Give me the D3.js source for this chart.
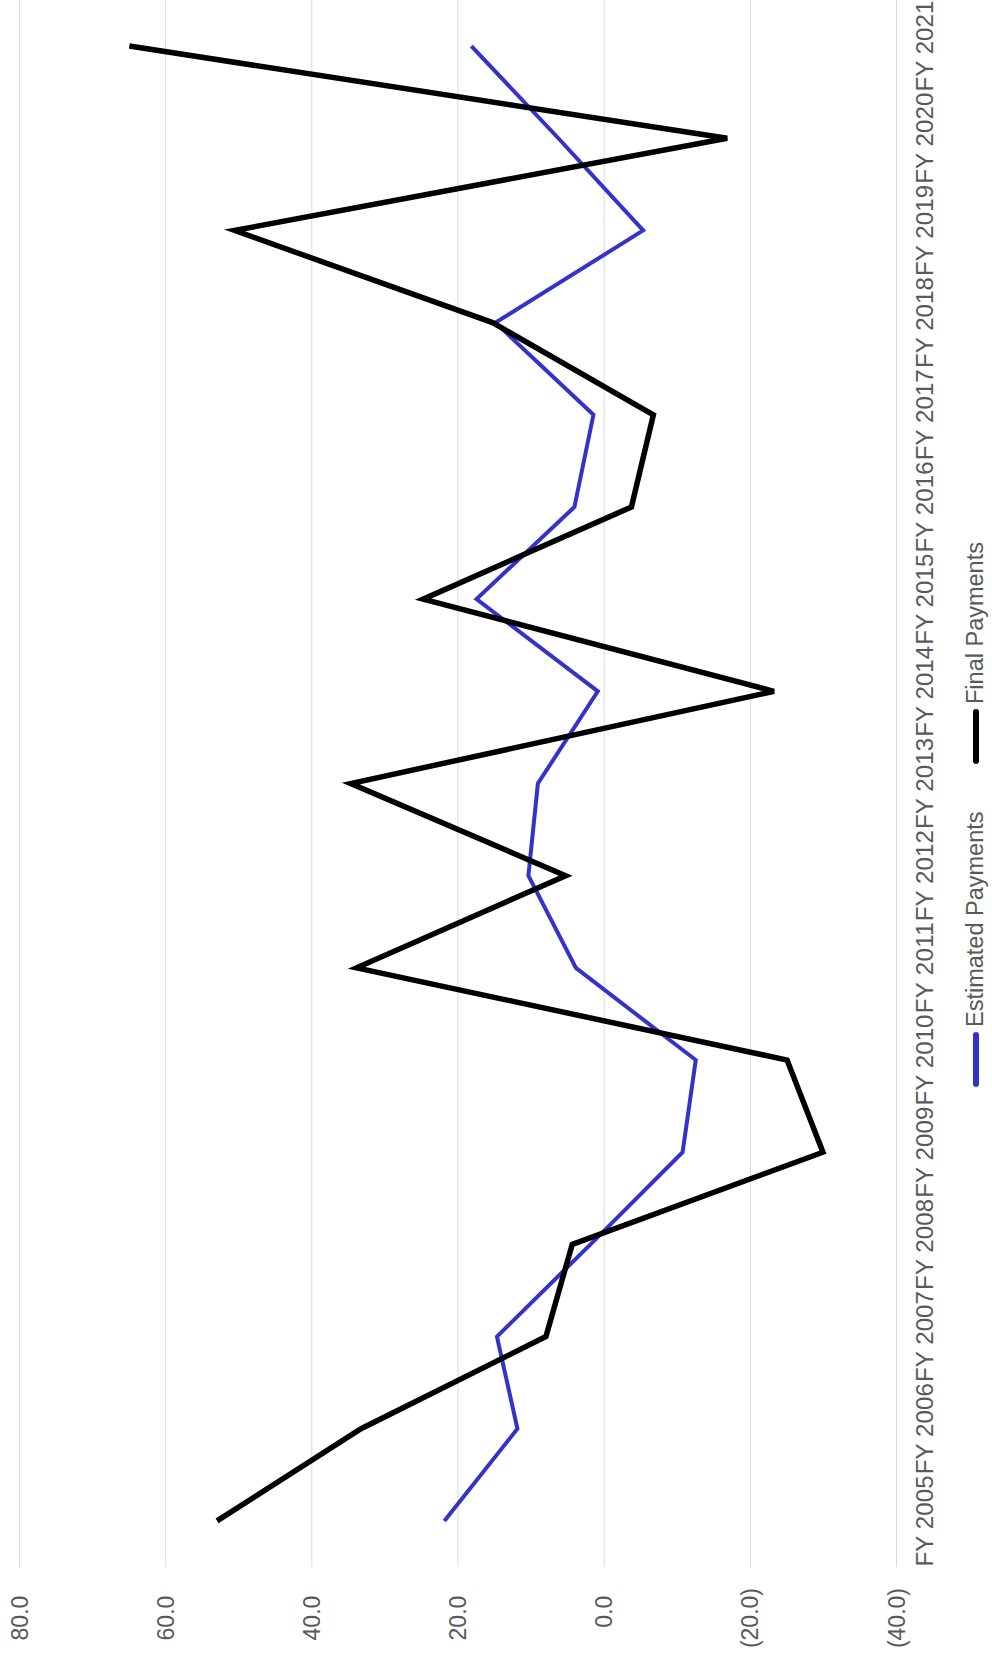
<!DOCTYPE html>
<html>
<head>
<meta charset="utf-8">
<script src="https://cdn.jsdelivr.net/npm/d3@7"></script>
<style>
  body { margin: 0; background: #fff; }
  svg { display: block; font-family: "Liberation Sans", Arial, sans-serif; }
</style>
</head>
<body>
<svg id="chart"></svg>
<script>
// ---- data ----
const categories = ['FY 2005', 'FY 2006', 'FY 2007', 'FY 2008', 'FY 2009', 'FY 2010', 'FY 2011', 'FY 2012',
    'FY 2013', 'FY 2014', 'FY 2015', 'FY 2016', 'FY 2017', 'FY 2018', 'FY 2019', 'FY 2020', 'FY 2021'];
const estimatedPayments = [21.8, 11.8, 14.6, 1.8, -10.8, -12.6, 3.8, 10.3, 9.0, 0.8, 17.4, 4.0, 1.4, 14.8, -5.4, 6.2, 18.1];
const finalPayments = [52.9, 33.2, 7.9, 4.3, -30.0, -25.1, 33.8, 5.2, 34.6, -23.3, 24.7, -3.8, -6.8, 15.2, 50.5, -16.9, 64.9];
const valueTicks = [80, 60, 40, 20, 0, -20, -40];
const seriesNames = ['Estimated Payments', 'Final Payments'];
const seriesColors = ['#3333cc', '#000000'];

const W = 992, H = 1660;
const plotLeft = 19, plotRight = 896, plotTop = 0, plotBottom = 1567;
const fontSize = 23;

const svg = d3.select('#chart').attr('width', W).attr('height', H);

// chart is drawn turned a quarter: values run right-to-left, years bottom-to-top
const x = d3.scaleLinear().domain([-40, 80]).range([plotRight, plotLeft]);
const y = d3.scalePoint().domain(categories).range([plotBottom, plotTop]).padding(0.5);

const fmt = v => v < 0 ? `(${d3.format('.1f')(-v)})` : d3.format('.1f')(v);

// Grid lines + value labels
svg.append('g')
    .call(d3.axisBottom(x).tickValues(valueTicks).tickSize(plotBottom).tickFormat(fmt))
    .call(ax => ax.select('.domain').remove())
    .call(ax => ax.selectAll('.tick line').attr('stroke', '#d9d9d9').attr('stroke-width', 1))
    .call(ax => ax.selectAll('.tick text')
        .attr('fill', '#595959')
        .attr('font-size', fontSize)
        .attr('text-anchor', 'end')
        .attr('transform', 'translate(0,1588) rotate(-90)')
        .attr('y', 0)
        .attr('x', d => d < 0 ? 0 : -fontSize * 0.333)
        .attr('dy', '0.35em'));

// Category labels (right side)
svg.append('g')
    .selectAll('text')
    .data(categories)
    .enter()
    .append('text')
    .attr('transform', d => `translate(933,${y(d)}) rotate(-90)`)
    .attr('text-anchor', 'middle')
    .attr('fill', '#595959')
    .attr('font-size', 24)
    .attr('textLength', 91)
    .text(d => d);

// Lines
const series = [estimatedPayments, finalPayments];
const widths = [4, 5.5];
const line = d3.line()
    .x(d => x(d[1]))
    .y(d => y(d[0]));

series.forEach((vals, i) => {
    svg.append('path')
        .datum(categories.map((c, j) => [c, vals[j]]))
        .attr('fill', 'none')
        .attr('stroke', seriesColors[i])
        .attr('stroke-width', widths[i])
        .attr('stroke-linejoin', 'miter')
        .attr('d', line);
});

// Legend (reads bottom-to-top)
const legendX = 976;
const legendStarts = [1087, 764];
seriesNames.forEach((name, i) => {
    const y0 = legendStarts[i];
    svg.append('line')
        .attr('x1', legendX).attr('x2', legendX)
        .attr('y1', y0 - 3).attr('y2', y0 - 52)
        .attr('stroke', seriesColors[i])
        .attr('stroke-width', 6)
        .attr('stroke-linecap', 'round');
    svg.append('text')
        .attr('transform', `translate(983,${y0 - 60}) rotate(-90)`)
        .attr('fill', '#595959')
        .attr('font-size', 23.5)
        .text(name);
});
</script>
</body>
</html>
